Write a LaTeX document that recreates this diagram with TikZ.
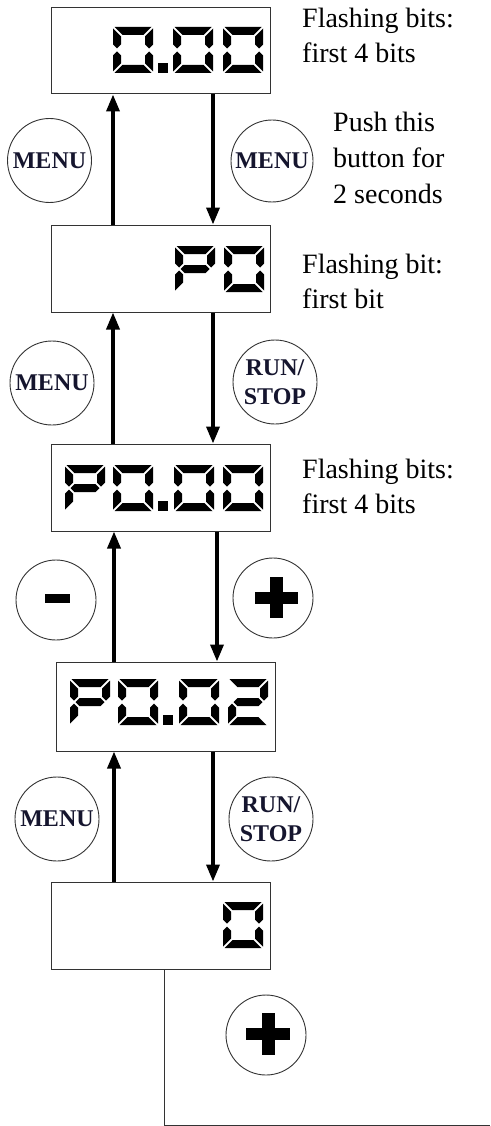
\documentclass[tikz,border=0pt]{standalone}
\usepackage{fontspec}
\setmainfont{Liberation Serif}
\usetikzlibrary{arrows.meta}
\definecolor{edgegray}{HTML}{333333}
\definecolor{btntext}{HTML}{15152E}
% seven-segment pieces, local frame: top-left origin, y downward, 40 x 46
\newcommand\dsegA{\fill (1.5,0) -- (38.5,0) -- (30.5,8) -- (9.5,8) -- cycle;}
\newcommand\dsegD{\fill (1.5,46) -- (38.5,46) -- (30.5,38) -- (9.5,38) -- cycle;}
\newcommand\dsegF{\fill (0,1.5) -- (8,9.5) -- (8,17.5) -- (4,21.5) -- (0,17.5) -- cycle;}
\newcommand\dsegE{\fill (0,44.5) -- (8,36.5) -- (8,28.5) -- (4,24.5) -- (0,28.5) -- cycle;}
\newcommand\dsegB{\fill (40,1.5) -- (32,9.5) -- (32,17.5) -- (36,21.5) -- (40,17.5) -- cycle;}
\newcommand\dsegC{\fill (40,44.5) -- (32,36.5) -- (32,28.5) -- (36,24.5) -- (40,28.5) -- cycle;}
\newcommand\dsegG{\fill (5.5,23) -- (9.5,19) -- (30.5,19) -- (34.5,23) -- (30.5,27) -- (9.5,27) -- cycle;}
\newcommand\dzero{\dsegA\dsegB\dsegC\dsegD\dsegE\dsegF}
\newcommand\dpee{\dsegA\dsegB\dsegG\dsegE\dsegF}
\newcommand\dtwo{\dsegA\dsegB\dsegG\dsegE\dsegD}
\newcommand\sevdig[3]{\begin{scope}[shift={(#1,#2)}]#3\end{scope}}
\newcommand\sevdot[2]{\fill (#1,#2) rectangle ++(10,10);}
\begin{document}
\begin{tikzpicture}[x=1pt,y=-1pt,
  box/.style={draw=edgegray, line width=1pt, minimum width=219pt, minimum height=87pt, inner sep=0pt},
  btn/.style={circle, draw=edgegray, line width=0.9pt, minimum size=84pt, inner sep=0pt,
    text=btntext, align=center, font=\fontsize{24}{29}\selectfont\bfseries},
  arr/.style={line width=3.5pt, -{Triangle[length=17pt,width=13pt]}},
  thinline/.style={draw=edgegray, line width=1pt},
  note/.style={anchor=north west, inner sep=0pt, align=left, font=\fontsize{28}{34.5}\selectfont}]
\useasboundingbox (0,0) rectangle (490,1126);

% display boxes
\node[box, minimum height=86pt] (b1) at (160.5,51) {};
\node[box] (b2) at (160.5,268.5) {};
\node[box] (b3) at (160.5,487.5) {};
\node[box, minimum height=89pt] (b4) at (165.5,706.5) {};
\node[box] (b5) at (160.5,925.5) {};

% digits
\sevdig{113}{27}{\dzero}\sevdot{158}{63}\sevdig{173}{27}{\dzero}\sevdig{223}{27}{\dzero}
\sevdig{175}{246}{\dpee}\sevdig{224}{246}{\dzero}
\sevdig{65}{465}{\dpee}\sevdig{113}{465}{\dzero}\sevdot{158}{501}\sevdig{174}{465}{\dzero}\sevdig{223}{465}{\dzero}
\sevdig{70}{679}{\dpee}\sevdig{118}{679}{\dzero}\sevdot{163}{715}\sevdig{179}{679}{\dzero}\sevdig{228}{679}{\dtwo}
\sevdig{223}{902}{\dzero}

% buttons
\node[btn] (m1) at (49.5,160.5) {MENU};
\node[btn, minimum size=82pt] (m2) at (272,161) {MENU};
\node[btn] (m3) at (52,383) {MENU};
\node[btn] (rs1) at (275,382) {RUN/\\STOP};
\node[btn, minimum size=80pt] (mi) at (56,600) {};
\node[btn, minimum size=80pt] (pl1) at (273,598) {};
\node[btn] (m4) at (57,819) {MENU};
\node[btn] (rs2) at (271,819) {RUN/\\STOP};
\node[btn, minimum size=80pt] (pl2) at (266,1035) {};

% plus / minus glyphs
\fill ([shift={(-11,-6)}]mi.center) rectangle ++(25,9);
\fill ([shift={(-18,-6)}]pl1.center) rectangle ++(43,12);
\fill ([shift={(-3,-21)}]pl1.center) rectangle ++(13,41);
\fill ([shift={(-20,-7)}]pl2.center) rectangle ++(44,12);
\fill ([shift={(-4.5,-22)}]pl2.center) rectangle ++(13,42);

% arrows
\draw[arr] ([xshift=-47.5pt]b2.north) -- ([xshift=-47.5pt]b1.south);
\draw[arr] ([xshift=52.5pt]b1.south) -- ([xshift=52.5pt]b2.north);
\draw[arr] ([xshift=-47.5pt]b3.north) -- ([xshift=-47.5pt]b2.south);
\draw[arr] ([xshift=52.5pt]b2.south) -- ([xshift=52.5pt]b3.north);
\draw[arr] ([xshift=-51.5pt]b4.north) -- ([xshift=-46.5pt]b3.south);
\draw[arr] ([xshift=56.5pt]b3.south) -- ([xshift=51.5pt]b4.north);
\draw[arr] ([xshift=-46.5pt]b5.north) -- ([xshift=-51.5pt]b4.south);
\draw[arr] ([xshift=47.5pt]b4.south) -- ([xshift=52.5pt]b5.north);

% exit line
\coordinate (c1) at (164,1125);
\coordinate (c2) at (490,1125);
\draw[thinline] ([xshift=3.5pt]b5.south) -- (c1) -- (c2);

% notes
\node[note] (t1) at (302,8) {Flashing bits:\\first 4 bits};
\node[note, font=\fontsize{28}{36}\selectfont] (t2) at (333,112) {Push this\\button for\\2 seconds};
\node[note] (t3) at (302,254) {Flashing bit:\\first bit};
\node[note] (t4) at (302,459) {Flashing bits:\\first 4 bits};
\end{tikzpicture}
\end{document}
